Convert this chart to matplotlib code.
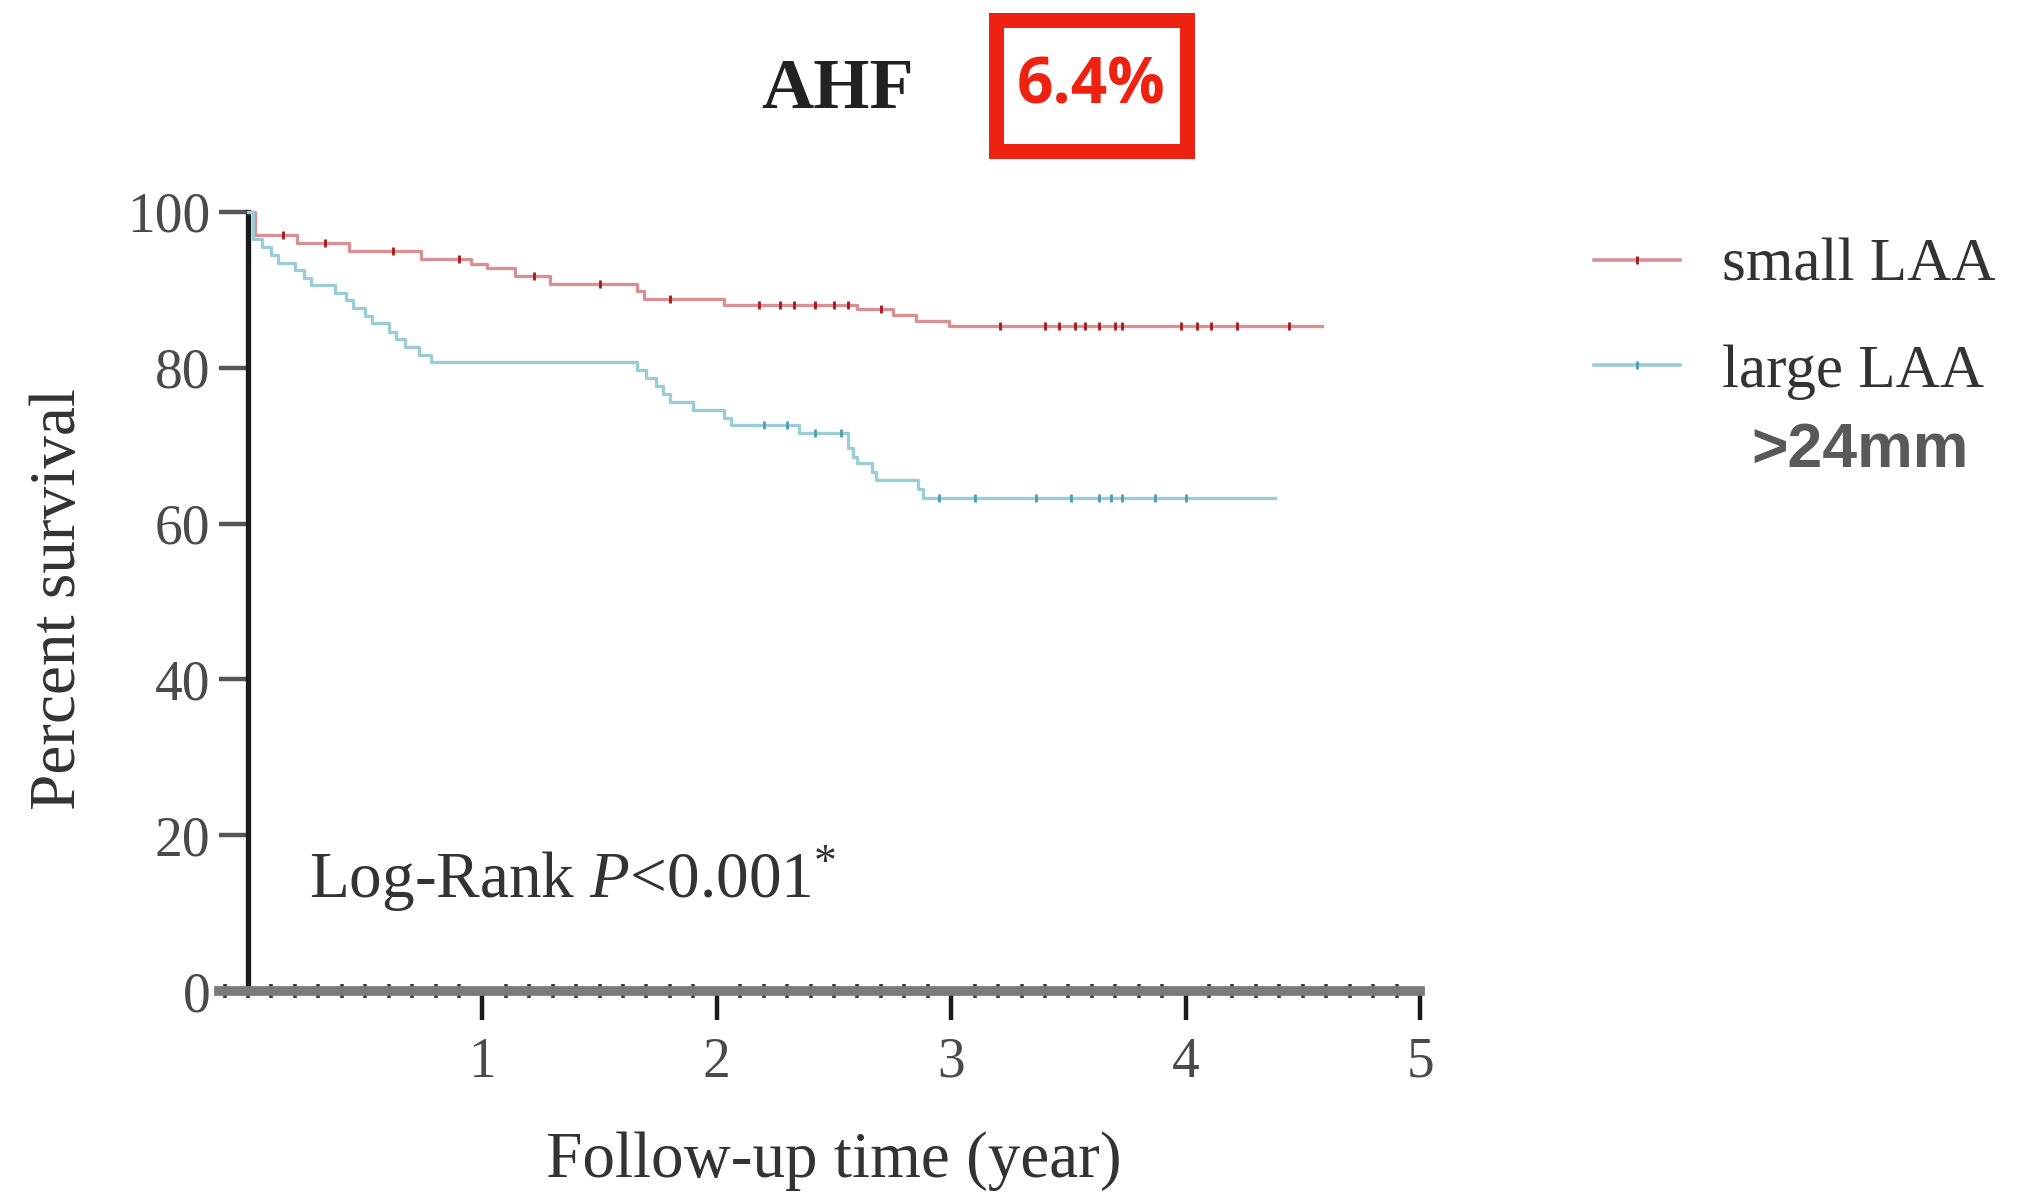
import numpy as np
import matplotlib
matplotlib.use("Agg")
import matplotlib.pyplot as plt
from matplotlib.lines import Line2D
from matplotlib.patches import Rectangle

plt.rcParams['font.family'] = ['Liberation Serif', 'DejaVu Serif']
plt.rcParams['mathtext.fontset'] = 'custom'
plt.rcParams['mathtext.rm'] = 'Liberation Serif'
plt.rcParams['mathtext.it'] = 'Liberation Serif:italic'

# ---------------- data ----------------
red_times = [0, 0.03, 0.21, 0.43, 0.74, 0.95, 1.02, 1.14, 1.29, 1.66, 1.69, 2.03, 2.60, 2.75, 2.85, 2.99]
red_surv = [100, 97, 96, 95, 94, 93.3, 92.8, 91.8, 90.8, 89.8, 88.8, 88.0, 87.5, 86.8, 86.0, 85.4]
red_end = 4.58
red_censor = [0.15, 0.33, 0.62, 0.90, 1.22, 1.50, 1.80, 2.18, 2.27, 2.33, 2.42, 2.50, 2.56, 2.70,
              3.21, 3.40, 3.46, 3.53, 3.57, 3.63, 3.70, 3.73, 3.98, 4.05, 4.11, 4.22, 4.44]

blue_times = [0, 0.02, 0.06, 0.10, 0.13, 0.20, 0.24, 0.27, 0.37, 0.42, 0.45, 0.50, 0.53, 0.60, 0.63,
              0.67, 0.73, 0.78, 1.66, 1.70, 1.74, 1.77, 1.80, 1.90, 2.03, 2.06, 2.35, 2.56, 2.58,
              2.60, 2.66, 2.68, 2.86, 2.88]
blue_surv = [100, 96.5, 95.5, 94.5, 93.5, 92.5, 91.5, 90.6, 89.6, 88.7, 87.7, 86.6, 85.7, 84.6, 83.7,
             82.7, 81.6, 80.7, 79.7, 78.7, 77.6, 76.7, 75.6, 74.6, 73.6, 72.6, 71.6, 69.7, 68.6,
             67.8, 66.6, 65.6, 64.5, 63.3]
blue_end = 4.38
blue_censor = [2.20, 2.30, 2.42, 2.53, 2.95, 3.10, 3.36, 3.51, 3.63, 3.68, 3.73, 3.87, 4.00]

groups = ["small LAA", "large LAA"]
y_ticks = [0, 20, 40, 60, 80, 100]
x_ticks = [1, 2, 3, 4, 5]
title = "AHF"
badge = "6.4%"
extra_label = ">24mm"

red_line = '#D69194'
red_mark = '#A81616'
blue_line = '#9CCCD6'
blue_mark = '#4A9FB5'
txt = '#333333'

# ---------------- figure ----------------
W, H = 2019, 1198
fig = plt.figure(figsize=(W / 100, H / 100), dpi=100)
fig.patch.set_facecolor('white')

x0_px, x5_px = 248, 1420
ppy = (x5_px - x0_px) / 5.0
xmin = -(x0_px - 219) / ppy
ax_left = 219 / W
ax_right = x5_px / W
ax_bottom = (H - 991) / H
ax_top = (H - 212) / H
ax = fig.add_axes([ax_left, ax_bottom, ax_right - ax_left, ax_top - ax_bottom])


def km(ax, times, surv, end, censor, lc, mc):
    t = list(times) + [end]
    s = list(surv) + [surv[-1]]
    ax.step(t, s, where='post', color=lc, lw=2.4, clip_on=False, zorder=3)
    idx = np.searchsorted(np.array(times), np.array(censor), side='right') - 1
    cy = np.array(surv)[idx]
    ax.plot(censor, cy, linestyle='none', marker='|', markersize=6, markeredgewidth=2.0,
            color=mc, clip_on=False, zorder=4)


km(ax, red_times, red_surv, red_end, red_censor, red_line, red_mark)
km(ax, blue_times, blue_surv, blue_end, blue_censor, blue_line, blue_mark)

ax.set_xlim(xmin, 5.0)
ax.set_ylim(0, 100)
for s in ['top', 'right']:
    ax.spines[s].set_visible(False)
ax.spines['left'].set_position(('data', 0))
ax.spines['left'].set_linewidth(3.8)
ax.spines['left'].set_color('#1a1a1a')
ax.spines['bottom'].set_linewidth(7)
ax.spines['bottom'].set_color('#7a7a7a')

ax.set_yticks(y_ticks)
ax.set_yticklabels([str(v) for v in y_ticks])
ax.set_xticks(x_ticks)
ax.set_xticklabels([str(v) for v in x_ticks])
ax.set_xticks(np.arange(-0.1, 5.0, 0.1), minor=True)
ax.tick_params(axis='y', which='major', direction='out', length=21, width=3.2, color='#555555',
               labelsize=40, labelcolor='#4a4a4a', pad=6)
ax.tick_params(axis='x', which='major', direction='out', length=21, width=3.2, color='#1a1a1a',
               labelsize=40, labelcolor='#4a4a4a', pad=12)
ax.tick_params(axis='x', which='minor', direction='inout', length=10, width=2.6, color='#3a3a3a')
ax.tick_params(axis='y', which='minor', left=False)

ax.text(0.26, 14.4, r'Log-Rank $\mathit{P}$<0.001$^{*}$', fontsize=47, color=txt,
        ha='left', va='center')

fig.text(59 / W, 1 - 599 / H, 'Percent survival', rotation=90, fontsize=47, color=txt,
         ha='center', va='center')
fig.text(834 / W, 1 - 1161 / H, 'Follow-up time (year)', fontsize=47, color=txt,
         ha='center', va='center')

fig.text(838 / W, 1 - 90 / H, title, fontsize=52, fontweight='bold', color='#222222',
         ha='center', va='center')

# badge
bx0, by0, bx1, by1 = 995.5, 19.5, 1186.5, 150.5
fig.patches.append(Rectangle((bx0 / W, 1 - by1 / H), (bx1 - bx0) / W, (by1 - by0) / H,
                             fill=False, edgecolor='#EE2211', linewidth=10.8,
                             transform=fig.transFigure, figure=fig))
fig.text(1091 / W, 1 - 87 / H, badge, fontsize=46, fontweight='bold', color='#EE2211',
         family='Open Sans', ha='center', va='center')

# legend
handles = [Line2D([], [], color=red_line, lw=2.6, marker='|', markersize=6,
                  markeredgewidth=2.0, markeredgecolor=red_mark),
           Line2D([], [], color=blue_line, lw=2.6, marker='|', markersize=6,
                  markeredgewidth=2.0, markeredgecolor=blue_mark)]
leg = fig.legend(handles, groups, loc='center left', bbox_to_anchor=(1594 / W, 1 - 319 / H),
                 frameon=False, fontsize=44, handlelength=1.4, handletextpad=0.7,
                 labelspacing=0.82, borderpad=0, borderaxespad=0, labelcolor=txt)

fig.text(1860 / W, 1 - 450 / H, extra_label, fontsize=45, fontweight='bold', color='#595959',
         family='Liberation Sans', ha='center', va='center')

fig.savefig('out.png', dpi=100, facecolor='white')
